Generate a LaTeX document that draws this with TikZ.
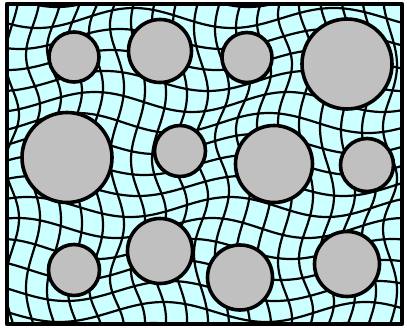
\documentclass[tikz,border=0pt]{standalone}
\usepackage{tikz}
\definecolor{matrixfill}{RGB}{204,255,255}
\definecolor{grainfill}{RGB}{192,192,192}

\begin{document}
\begin{tikzpicture}[x=1pt,y=-1pt,line cap=round,line join=round]
  \useasboundingbox (0,0) rectangle (407,327);
  % ---------------- matrix: cyan box ----------------
  \fill[matrixfill] (7,4) rectangle (402,324);

  % ---------------- wavy mesh ----------------
  \begin{scope}
    \clip (7,4) rectangle (402,324);
    % rows
    \foreach \v in {-24,-3,...,346}
      \draw[line width=2.2pt] plot[domain=-20:430,samples=90,smooth]
        ({\x+7*sin(3*\v+0.4*\x+120)},{\v+10*sin(1.8*\x+1.1*\v)});
    % columns
    \foreach \u in {-30,-9,...,440}
      \draw[line width=2.2pt] plot[variable=\t,domain=-20:350,samples=80,smooth]
        ({\u+7*sin(3*\t+0.4*\u+120)},{\t+10*sin(1.8*\u+1.1*\t)});
  \end{scope}

  % ---------------- grains ----------------
  \foreach \cx/\cy/\r in {74/57/25,160/51/31.5,247/57.5/25,347/64/45,
                          67/157.5/45,180/151/25.5,274/164/38.5,367/165/26.5,
                          74/270/25.5,160/251/32.5,240/277.5/32.5,347/264/32.5}
    \filldraw[fill=grainfill,line width=3.6pt] (\cx,\cy) circle[radius=\r];

  % ---------------- outer frame ----------------
  \draw[line width=4.5pt] (7,4) rectangle (402,324);
\end{tikzpicture}
\end{document}
